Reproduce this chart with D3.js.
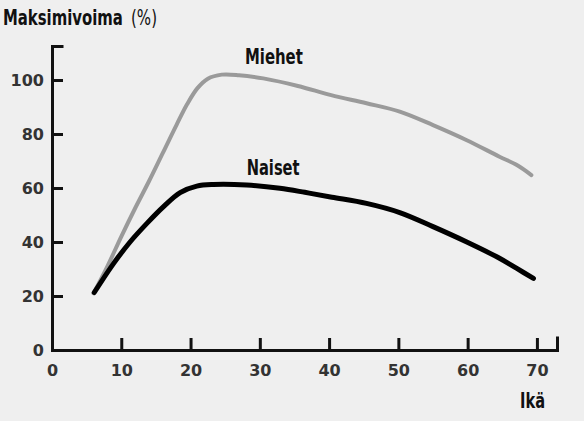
<!DOCTYPE html>
<html>
<head>
<meta charset="utf-8">
<script src="https://cdn.jsdelivr.net/npm/d3@7"></script>
<style>
  html, body { margin: 0; padding: 0; background: #efefef; }
  svg { display: block; }
</style>
</head>
<body>
<svg id="chart" width="584" height="421"></svg>
<script>
// ---- data ----
const xTicks = [0, 10, 20, 30, 40, 50, 60, 70];
const yTicks = [0, 20, 40, 60, 80, 100];

const menAges   = [6, 8, 10, 12, 14, 16, 18, 19.5, 21, 22.5, 24.5, 27, 30.5, 35.5, 40.3, 45.4, 50.2, 55, 59.8, 64.6, 67.1, 69.2];
const menValues = [21, 31, 42, 52.5, 62.5, 73, 83.5, 91, 97, 100.5, 102, 101.8, 100.6, 97.8, 94.4, 91.4, 88.3, 83.3, 77.8, 71.6, 68.5, 64.8];

const womenAges   = [6.1, 8.9, 11.3, 13.7, 16.1, 18.5, 20.9, 23.3, 28.1, 32.9, 36.5, 40.4, 45.4, 50.2, 55, 59.8, 64.6, 67.1, 69.5];
const womenValues = [21.3, 32.1, 40.1, 46.9, 53.1, 58.3, 60.7, 61.3, 61.1, 59.9, 58.4, 56.6, 54.3, 50.9, 45.7, 40.1, 34, 30.2, 26.5];

const seriesNames = ["Miehet", "Naiset"];
const titleMain = "Maksimivoima";
const titleUnit = "(%)";
const xTitle = "Ikä";

// ---- drawing ----
const svg = d3.select("#chart");
const W = 584, H = 421;
const condensed = "'DejaVu Sans Condensed', 'Liberation Sans Narrow', 'Arial Narrow', sans-serif";
const tickFont = "'DejaVu Sans', sans-serif";

svg.append("rect").attr("width", W).attr("height", H).attr("fill", "#efefef");

const x = d3.scaleLinear().domain([0, 72.9]).range([52, 557]);
const y = d3.scaleLinear().domain([0, 112.6]).range([350, 46]);

// x axis
const xAxis = d3.axisBottom(x)
  .tickValues(xTicks)
  .tickSize(-12)
  .tickSizeOuter(-12)
  .tickPadding(15)
  .tickFormat(d3.format("d"));
const gx = svg.append("g").attr("transform", `translate(0,${y(0)})`).call(xAxis);

// y axis
const yAxis = d3.axisLeft(y)
  .tickValues(yTicks)
  .tickSize(-11)
  .tickSizeOuter(-10)
  .tickPadding(8)
  .tickFormat(d3.format("d"));
const gy = svg.append("g").attr("transform", `translate(${x(0)},0)`).call(yAxis);

[gx, gy].forEach(g => {
  g.select(".domain").attr("stroke", "#111").attr("stroke-width", 3).attr("fill", "none").attr("stroke-linecap", "square");
  g.selectAll(".tick line").attr("stroke", "#111").attr("stroke-width", 3);
  g.selectAll(".tick text")
    .attr("fill", "#333")
    .style("font-family", tickFont)
    .style("font-size", "16px")
    .style("font-weight", "bold");
});

// lines
const line = d3.line()
  .x(d => x(d[0]))
  .y(d => y(d[1]))
  .curve(d3.curveCatmullRom.alpha(0.5));

const menData = menAges.map((a, i) => [a, menValues[i]]);
const womenData = womenAges.map((a, i) => [a, womenValues[i]]);

svg.append("path")
  .datum(menData)
  .attr("d", line)
  .attr("fill", "none")
  .attr("stroke", "#9a9a9a")
  .attr("stroke-width", 4)
  .attr("stroke-linecap", "round")
  .attr("stroke-linejoin", "round");

svg.append("path")
  .datum(womenData)
  .attr("d", line)
  .attr("fill", "none")
  .attr("stroke", "#000")
  .attr("stroke-width", 5)
  .attr("stroke-linecap", "round")
  .attr("stroke-linejoin", "round");

// text helper: condensed text squeezed horizontally to a target width
function label(txt, px, py, len, size, weight) {
  const t = svg.append("text")
    .attr("x", 0).attr("y", 0)
    .style("font-family", condensed)
    .style("font-size", size + "px")
    .style("font-weight", weight)
    .attr("fill", "#111")
    .text(txt);
  const w = t.node().getComputedTextLength() || len;
  t.attr("transform", `translate(${px},${py}) scale(${len / w},1)`);
  return t;
}

// series labels (anchored in data space)
label(seriesNames[0], x(27.85), y(105.8), 58, 22, "bold");
label(seriesNames[1], x(28.1), y(64.8), 53, 22, "bold");

// title
label(titleMain, 3, 25, 120, 21, "bold");
label(titleUnit, 131, 25, 26, 21, "normal");

// x axis title
label(xTitle, 520, 408, 25, 22, "bold");
</script>
</body>
</html>
